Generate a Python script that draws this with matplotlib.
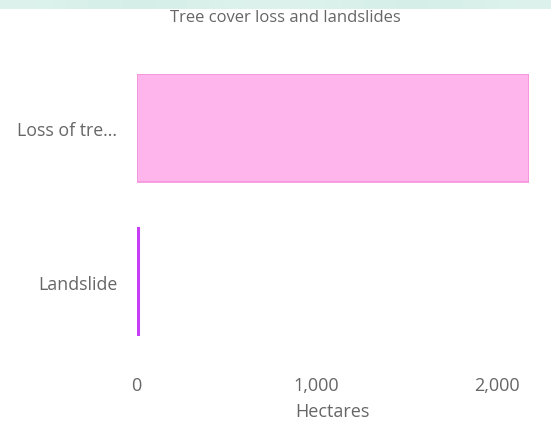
import matplotlib.pyplot as plt
import numpy as np
from matplotlib.ticker import FuncFormatter

categories = ['Loss of tre...', 'Landslide']
hectares = [2180, 8]
fills = ['#fdb5ec', '#c941f7']
edges = ['#f592da', '#c63ff6']
widths = [1.2, 2.2]

plt.rcParams['font.family'] = ['Open Sans', 'DejaVu Sans']
grey = '#666666'

fig = plt.figure(figsize=(5.51, 4.27), dpi=100)

# faint gradient strip across the top edge
band = fig.add_axes([0, 1 - 10 / 427, 1, 10 / 427])
grad = np.linspace(0, 1, 256)
grad = 0.6 + 0.4 * np.sin(grad * np.pi * 2) ** 2
band.imshow(grad[np.newaxis, :], aspect='auto', cmap='BuGn', vmin=-2.5, vmax=6, alpha=0.35)
band.axis('off')

ax = fig.add_axes([136.5 / 551, 90 / 427, (529 - 136.5) / 551, 262 / 427])
y = np.arange(len(categories))
ax.barh(y, hectares, height=0.7, color=fills, edgecolor=edges, linewidth=widths)
ax.set_ylim(1.35, -0.35)
ax.set_xlim(0, hectares[0])
ax.set_yticks(y)
ax.set_yticklabels(categories)
ax.set_xticks([0, 1000, 2000])
ax.xaxis.set_major_formatter(FuncFormatter(lambda v, p: f'{int(v):,}'))
ax.tick_params(axis='x', length=0, pad=28.5, labelsize=13, labelcolor=grey)
ax.tick_params(axis='y', length=0, pad=14, labelsize=12.8, labelcolor=grey)
for s in ax.spines.values():
    s.set_visible(False)
ax.set_xlabel('Hectares', fontsize=13, color=grey, labelpad=6)

fig.text(285 / 551, 1 - 18.5 / 427, 'Tree cover loss and landslides', ha='center', va='center',
         fontsize=12, color=grey)

fig.savefig('out.png', dpi=100)
